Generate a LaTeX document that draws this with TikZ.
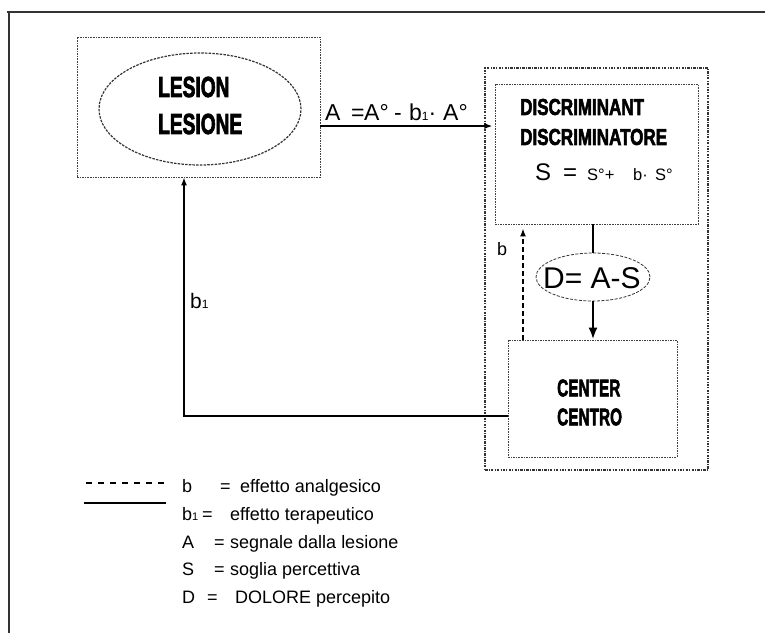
\documentclass[tikz,border=0pt]{standalone}
\usepackage{fontspec}
\setmainfont{Liberation Sans}
\newfontfamily\hdfont{Liberation Sans}[BoldFeatures={FakeBold=3}]
\usetikzlibrary{arrows.meta,shapes.geometric}

% heavy condensed heading: #1 = horizontal squeeze, #2 = size, #3 = text
\newcommand{\hdtxt}[3]{\scalebox{#1}[1]{\fontsize{#2}{#2}\selectfont\hdfont\bfseries #3}}
% legend row: #1 = width before '=', #2 = width of '=' cell, #3 symbol, #4 meaning
\newcommand{\legrow}[4]{\makebox[#1pt][l]{#3}\makebox[#2pt][l]{=}#4}
% fixed-width cell of a formula
\newcommand{\cell}[2]{\makebox[#1pt][l]{#2}}

\tikzset{
  frameline/.style={line width=2pt, draw=black!80},
  dotbox/.style={rectangle, draw=black!75, line width=0.8pt,
    dash pattern=on 1.6pt off 1pt, inner sep=0pt},
  sysbox/.style={rectangle, draw=black!80, line width=1.2pt,
    dash pattern=on 2.5pt off 1.2pt on 1pt off 1.2pt, inner sep=0pt},
  dashell/.style={ellipse, draw=black!80, line width=1.2pt,
    dash pattern=on 2.5pt off 1.2pt, inner sep=0pt},
  thinell/.style={ellipse, draw=black!80, line width=0.8pt,
    dash pattern=on 3pt off 1.5pt, inner sep=0pt},
  heading/.style={anchor=west, inner sep=0pt},
  plain/.style={inner sep=0pt, anchor=base west},
  flow/.style={line width=1.4pt, -{Latex[length=8pt,width=6pt]}},
  strong/.style={line width=2.8pt, -{Latex[length=12pt,width=9pt]}},
  analg/.style={line width=1.6pt, dash pattern=on 5pt off 3pt,
    -{Latex[length=8pt,width=6pt]}},
}

\begin{document}
\begin{tikzpicture}[x=1pt, y=-1pt]
  \useasboundingbox (0,0) rectangle (765,633);
  \fill[white] (0,0) rectangle (765,633);

  % page frame (top and left rules)
  \draw[frameline] (7,11.5) -- (765,11.5);
  \draw[frameline] (8.5,11) -- (8.5,633);

  % lesion block
  \node[dotbox, minimum width=243pt, minimum height=140pt] (lesbox) at (198.5,107) {};
  \node[dashell, minimum width=202pt, minimum height=112pt] (lesell) at (200,109) {};
  \node[heading] (les1) at (158,87) {\hdtxt{0.66}{29}{LESION}};
  \node[heading] (les2) at (158,124) {\hdtxt{0.66}{29}{LESIONE}};

  % central system: discriminator and centre
  \node[sysbox, minimum width=223pt, minimum height=402pt] (sys) at (596.5,269) {};
  \node[dotbox, minimum width=203pt, minimum height=140pt] (disc) at (596.5,154) {};
  \node[heading] (disc1) at (520,107) {\hdtxt{0.74}{23}{DISCRIMINANT}};
  \node[heading] (disc2) at (520,137) {\hdtxt{0.74}{23}{DISCRIMINATORE}};
  \node[plain] (sform) at (535,180)
    {\fontsize{16.5}{17}\selectfont
     \cell{28}{\fontsize{24}{24}\selectfont S}\cell{24}{\fontsize{24}{24}\selectfont =}%
     \cell{46}{S°+}\cell{22}{b·}S°};

  \node[thinell, minimum width=114pt, minimum height=48pt] (dell) at (593,277) {};
  \node[plain] (dtxt) at (543,288) {\fontsize{30}{30}\selectfont D= A-S};

  \node[dotbox, minimum width=169pt, minimum height=117pt] (cbox) at (592.5,398.5) {};
  \node[heading] (cen1) at (557,388) {\hdtxt{0.64}{24}{CENTER}};
  \node[heading] (cen2) at (557,417) {\hdtxt{0.64}{24}{CENTRO}};

  % signal A from lesion to discriminator
  \coordinate (a0) at ([yshift=-19pt]lesbox.east);
  \draw[flow] (a0) -- ([xshift=8pt]a0 -| sys.west);
  \node[plain] (alab) at (325,120)
    {\fontsize{23}{24}\selectfont
     \cell{26}{A}\cell{13}{=}\cell{30}{A°}\cell{15}{-}%
     \cell{34}{b{\fontsize{12}{12}\selectfont 1}·}A°};

  % pain D
  \draw[line width=2.8pt] (dell.north |- disc.south) -- (dell.north);
  \draw[strong] (dell.south) -- (dell.south |- cbox.north);

  % analgesic effect b
  \coordinate (bx) at (523,0);
  \draw[analg] (cbox.north -| bx) -- ([yshift=-4pt]disc.south -| bx);
  \node[plain] (blab) at (497,255) {\fontsize{18}{18}\selectfont b};

  % therapeutic effect b1
  \coordinate (fb) at (184,416);
  \draw[flow] (cbox.west |- fb) -| (lesbox.south -| fb);
  \node[plain] (b1lab) at (190,308) {\fontsize{21}{22}\selectfont b{\fontsize{12}{12}\selectfont 1}};

  % legend
  \coordinate (lg) at (86,483);
  \coordinate (ls) at (84,503);
  \draw[line width=1.5pt, dash pattern=on 6pt off 6pt] (lg) -- ++(82,0);
  \draw[line width=1.8pt] (ls) -- ++(82,0);
  \begin{scope}[every node/.style={plain}, font=\fontsize{18}{20}\selectfont]
    \node (l1) at (182,492) {\legrow{38}{20}{b}{effetto analgesico}};
    \node (l2) at (182,520) {\legrow{20}{28}{b{\fontsize{11}{11}\selectfont 1}}{effetto terapeutico}};
    \node (l3) at (182,548) {\legrow{32}{16}{A}{segnale dalla lesione}};
    \node (l4) at (182,575) {\legrow{32}{16}{S}{soglia percettiva}};
    \node (l5) at (182,603) {\legrow{25}{28}{D}{DOLORE percepito}};
  \end{scope}
\end{tikzpicture}
\end{document}
